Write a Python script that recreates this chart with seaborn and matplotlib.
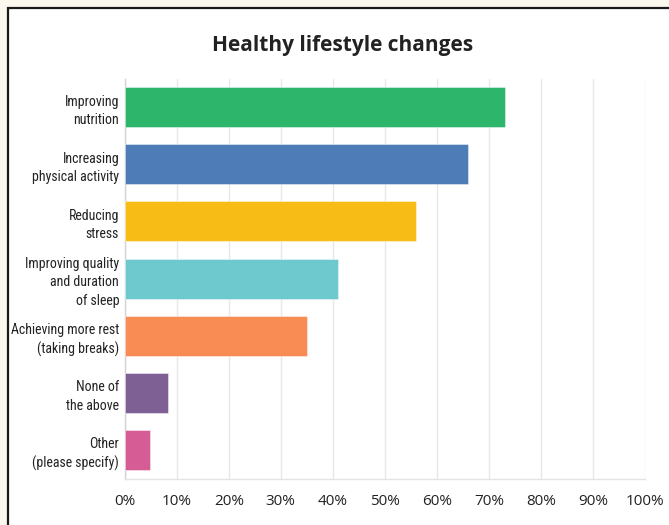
import matplotlib
matplotlib.use("Agg")
import matplotlib.pyplot as plt
import seaborn as sns
import pandas as pd
from matplotlib.patches import Rectangle
from matplotlib.ticker import MultipleLocator, FuncFormatter
from matplotlib import font_manager

categories = [
    "Improving\nnutrition",
    "Increasing\nphysical activity",
    "Reducing\nstress",
    "Improving quality\nand duration\nof sleep",
    "Achieving more rest\n(taking breaks)",
    "None of\nthe above",
    "Other\n(please specify)",
]
values = [73, 66, 56, 41, 35, 8.4, 4.8]
colors = ["#2eb56c", "#4d7cb7", "#f8bc17", "#6dc9cd", "#f98c55", "#7e6095", "#d65c95"]
title = "Healthy lifestyle changes"

installed = {f.name for f in font_manager.fontManager.ttflist}
narrow = None
for cand in ["Liberation Sans Narrow", "Roboto Condensed", "Open Sans Condensed",
             "Noto Sans Condensed", "DejaVu Sans Condensed", "Roboto"]:
    if cand in installed:
        narrow = cand
        break
if narrow is None:
    narrow = "DejaVu Sans"
narrow_size = 10 if narrow != "Roboto" else 9.5

sns.set_theme(style="white")
plt.rcParams["font.family"] = ["Open Sans", "DejaVu Sans"]

df = pd.DataFrame({"category": categories, "value": values})

fig = plt.figure(figsize=(6.69, 5.25), dpi=100)
fig.patch.set_facecolor("#fdf8ee")
W, H = 669, 525
fig.patches.append(Rectangle((8 / W, -0.1), 1.2, 1 - 8 / H + 0.1, transform=fig.transFigure,
                             facecolor="white", edgecolor="#1a1a1a", linewidth=1.6, zorder=-5))

ax = fig.add_axes([124.7 / W, 1 - 478.5 / H, (645 - 124.7) / W, 400 / H])
ax.set_facecolor("white")
sns.barplot(data=df, y="category", x="value", hue="category", palette=colors,
            legend=False, orient="h", width=0.7, ax=ax, saturation=1,
            edgecolor="white", linewidth=0.6, zorder=3)
for p in ax.patches:
    p.set_edgecolor((1, 1, 1, 0.5))

ax.set_xlim(0, 100)
ax.set_ylim(6.5, -0.5)
ax.xaxis.set_major_locator(MultipleLocator(10))
ax.xaxis.set_major_formatter(FuncFormatter(lambda v, _: f"{int(v)}%"))
ax.grid(axis="x", color="#e8e8e8", linewidth=1.0, zorder=0)
ax.set_axisbelow(True)
for s in ["top", "right"]:
    ax.spines[s].set_visible(False)
ax.spines["left"].set_color("#d9d2d2")
ax.spines["left"].set_linewidth(1.0)
ax.spines["bottom"].set_color("#e4e4e4")
ax.spines["bottom"].set_linewidth(1.0)
ax.set_xlabel("")
ax.set_ylabel("")
ax.tick_params(axis="x", length=0, pad=11, labelsize=11, labelcolor="#222222")
ax.tick_params(axis="y", length=0, pad=4)
for lbl in ax.get_yticklabels():
    lbl.set_family([narrow, "DejaVu Sans"])
    lbl.set_fontsize(narrow_size)
    lbl.set_color("#222222")
    lbl.set_multialignment("right")
    lbl.set_linespacing(1.4)

fig.text(343 / W, 1 - 45 / H, title, ha="center", va="center", fontsize=15,
         fontweight="bold", color="#222222")

fig.savefig("out.png", dpi=100, facecolor=fig.get_facecolor())
